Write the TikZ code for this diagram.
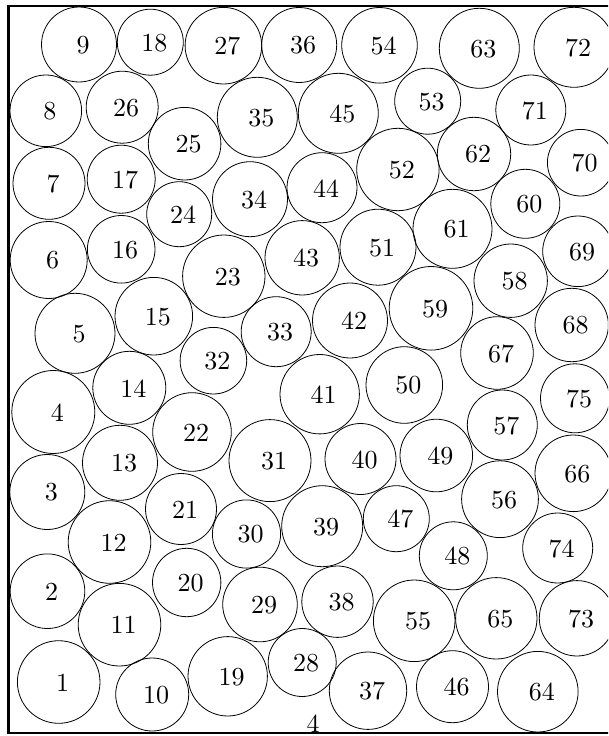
\documentclass[tikz,border=0pt]{standalone}
\usepackage{fontspec}
\setmainfont{lmroman10-regular}[Extension=.otf]
\begin{document}
\begin{tikzpicture}[x=1pt,y=-1pt,
  ball/.style={draw,circle,line width=0.8pt,inner sep=0pt,outer sep=0pt},
  num/.style={inner sep=0pt,font=\fontsize{26}{30}\selectfont}]
\useasboundingbox (0,0) rectangle (608,736);
\clip (0,0) rectangle (608,736);
\draw[line width=2.3pt] (8.5,6) rectangle (625,732.7);
\foreach \x/\y/\r/\n in {
58.7/682/41.3/1, 47.5/591.2/37.3/2, 47.3/492/37.5/3, 53.3/412/41.5/4,
75/333.3/40/5, 48.7/260/38.5/6, 49/183.3/36/7, 45.8/110.8/35.8/8,
79/44.5/37.5/9, 152.2/694.5/36.5/10, 119.5/624.7/41.3/11, 109.5/542/41.3/12,
120/462.8/37.5/13, 129.3/387.8/36.5/14, 153.8/316.2/38.8/15, 121.2/249.3/33.8/16,
121.2/179.2/34/17, 150.3/42.2/33/18, 227.7/676.3/39.7/19, 186.7/582.5/34.2/20,
181/509/35.5/21, 192/432/39.3/22, 223.8/276.2/41.2/23, 179.2/214.2/32.5/24,
184.6/143.7/36.3/25, 122.2/107.2/36/26, 223.4/45.7/38.3/27, 302.2/662.5/34/28,
260/604.5/37.3/29, 246.5/534/34.1/30, 270/460.6/41/31, 213.4/360.7/33.3/32,
276.2/331.7/35/33, 250/199.2/37.5/34, 257.3/117.3/40/35, 299.2/45/37.5/36,
368/690.7/38.7/37, 337.5/601.7/35.7/38, 322.2/526.2/40.5/39, 360.5/459/35.5/40,
319.7/394.2/39.7/41, 350/320.5/37.5/42, 302.2/257.8/37.2/43, 322/187.7/35/44,
338.3/113.3/40/45, 452.5/686.7/36/46, 396.3/518.7/33/47, 453.3/555.8/34/48,
436.3/455.5/36.3/49, 404.3/385/38.3/50, 378/247.2/38/51, 397.9/169.5/41.2/52,
427.7/101.2/33/53, 379.5/45.3/37.8/54, 414.2/620.8/40.8/55, 500/499.2/38.4/56,
502.3/425/35/57, 510.7/280.7/36.7/58, 431/308.3/41.8/59, 525.3/203.8/34.5/60,
452.5/228.8/39.5/61, 474/154/36.7/62, 479.3/48.3/40/63, 537.8/691.7/40.3/64,
496.3/618.3/40.7/65, 573.3/473.3/38.3/66, 497/353/36.3/67, 571.7/325/36.7/68,
578/251.3/35.3/69, 580.7/162.7/33.3/70, 530.8/110/35/71, 574/47.3/40/72,
577/618.3/37.7/73, 557.7/548/35/74, 575/398.3/34.5/75}
{
  \node[ball,minimum size=2*\r pt] (c\n) at (\x,\y) {};
  \node[num] (n\n) at ([xshift=4pt,yshift=-0.5pt]c\n.center) {\n};
}
\node[num] (bottomlabel) at (313,724) {4};
\end{tikzpicture}
\end{document}
